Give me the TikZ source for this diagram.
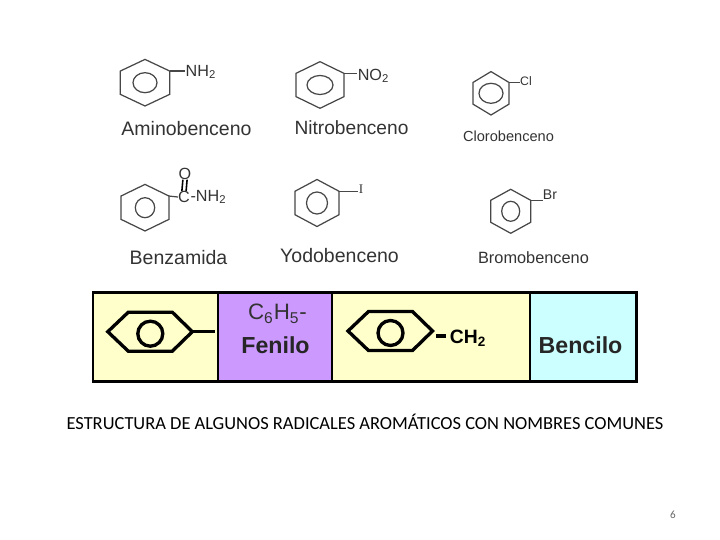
\documentclass[tikz,border=0pt]{standalone}
\usepackage{fontspec}
\setmainfont{Liberation Sans}
\newfontfamily\serifletter{Liberation Serif}
\newfontfamily\captionfont{Carlito}
\usetikzlibrary{positioning}
\definecolor{inkgrey}{HTML}{333333}
\definecolor{paleyellow}{HTML}{FFFFCC}
\definecolor{palepurple}{HTML}{CC99FF}
\definecolor{palecyan}{HTML}{CCFFFF}
\newcommand{\ringnode}[7]{
	\begin{scope}[shift={(#2,#3)}]
		\draw[thinring] (0,-#5) -- (#4,-#5/2) -- (#4,#5/2) -- (0,#5) -- (-#4,#5/2) -- (-#4,-#5/2) -- cycle;
		\draw[thinring] (0,0) ellipse ({#6} and {#7});
		\coordinate (#1) at (#4,-#5/2);
	\end{scope}
}
\newcommand{\flatring}[3]{
	\begin{scope}[shift={(#2,#3)}]
		\draw[thickring] (-42.5,0) -- (-22,-19.5) -- (22,-19.5) -- (42,0) -- (22,19.5) -- (-22,19.5) -- cycle;
		\draw[thickring] (0,2) circle (12.5);
		\coordinate (#1) at (42,0);
	\end{scope}
}
\tikzset{
	thinring/.style = {draw=inkgrey!90, line width=0.7pt},
	thickring/.style = {draw=black, line width=1.9pt, line join=miter},
	bondline/.style = {draw=inkgrey!90, line width=0.7pt},
	heavybond/.style = {draw=black, line width=1.9pt},
	namebig/.style = {text=inkgrey, font=\fontsize{11.1}{13}\selectfont},
	groupname/.style = {text=inkgrey, inner sep=0pt, font=\fontsize{9.2}{11}\selectfont},
	cellname/.style = {text=black!85, font=\fontsize{13.2}{15}\selectfont\bfseries},
	cellbox/.style = {draw=black, line width=1.2pt},
}

\begin{document}
\begin{tikzpicture}[x=0.02cm,y=-0.02cm]
	\useasboundingbox (0,0) rectangle (720,540);
	% upper rings
	\ringnode{ringA}{145}{82.7}{24.7}{23.3}{12}{10}
	\ringnode{ringN}{320}{85}{24}{23.3}{13}{9.5}
	\ringnode{ringC}{491}{93.3}{18}{21.7}{12}{10}
	\ringnode{ringB}{145}{207.7}{24}{23.3}{9.7}{10}
	\ringnode{ringY}{317}{203}{22}{23.5}{10.5}{11}
	\ringnode{ringR}{510.7}{211.3}{20}{22}{9}{10}
	% groups
	\node[groupname] (subA) at (201,72) {NH\textsubscript{2}};
	\node[groupname] (subN) at (373.5,76) {NO\textsubscript{2}};
	\node[groupname, font=\fontsize{7}{8}\selectfont] (subC) at (526,81) {Cl};
	\node[groupname] (subO) at (185,173.5) {O};
	\node[groupname] (subK) at (184,197) {C};
	\node[groupname, right=0pt of subK] (subH) {-NH\textsubscript{2}};
	\node[groupname, font=\fontsize{7.5}{9}\serifletter] (subY) at (361,189) {I};
	\node[groupname, font=\fontsize{8}{9}\selectfont] (subR) at (550,195) {Br};
	\draw[bondline] (ringA) -- (subA.west |- ringA);
	\draw[bondline] (ringN) -- (subN.west |- ringN);
	\draw[bondline] (ringC) -- (subC.west |- ringC);
	\draw[bondline] (ringB) -- (subK.west);
	\draw[bondline] (ringY) -- (subY.west |- ringY);
	\draw[bondline] (ringR) -- (subR.west |- ringR);
	\draw[draw=black, line width=0.9pt] ([xshift=-1.2pt]subO.south) -- ([xshift=-1.2pt]subK.north);
	\draw[draw=black, line width=0.9pt] ([xshift=1.2pt]subO.south) -- ([xshift=1.2pt]subK.north);
	% names
	\node[namebig] (nameA) at (186.5,129) {Aminobenceno};
	\node[namebig, font=\fontsize{10.9}{13}\selectfont] (nameN) at (351.5,128) {Nitrobenceno};
	\node[namebig, font=\fontsize{8.3}{10}\selectfont] (nameC) at (508.5,136.5) {Clorobenceno};
	\node[namebig] (nameB) at (178.5,258) {Benzamida};
	\node[namebig] (nameY) at (339.5,256) {Yodobenceno};
	\node[namebig, font=\fontsize{9.3}{11}\selectfont] (nameR) at (533.5,258) {Bromobenceno};
	% table
	\fill[paleyellow] (93,292.5) rectangle (218,381.5);
	\fill[palepurple] (218,292.5) rectangle (332,381.5);
	\fill[paleyellow] (332,292.5) rectangle (530,381.5);
	\fill[palecyan] (530,292.5) rectangle (636.7,381.5);
	\draw[cellbox] (218,292.5) -- (218,381.5);
	\draw[cellbox] (332,292.5) -- (332,381.5);
	\draw[cellbox] (530,292.5) -- (530,381.5);
	\draw[cellbox, line width=1.7pt] (93,292.5) rectangle (636.7,381.5);
	\flatring{ringP}{150.3}{331.7}
	\flatring{ringQ}{390.5}{331}
	\coordinate (endP) at (214.5,331.7);
	\draw[heavybond] (ringP) -- (endP);
	\node[inner sep=0pt, font=\fontsize{11}{13}\selectfont\bfseries] (chtwo) at (468,338.5) {CH\textsubscript{2}};
	\coordinate (startQ) at (436,336);
	\draw[heavybond] (startQ) -- ([xshift=-2.2pt]chtwo.west |- startQ);
	\node[inner sep=0pt, text=inkgrey, font=\fontsize{12.7}{15}\selectfont] (formula) at (277.5,314) {C\textsubscript{6}H\textsubscript{5}-};
	\node[cellname] (fenilo) at (275.5,345) {Fenilo};
	\node[cellname] (bencilo) at (580.5,345) {Bencilo};
	% caption
	\node[font=\fontsize{10.5}{12}\captionfont, text=black] (caption) at (365,422) {ESTRUCTURA DE ALGUNOS RADICALES AROMÁTICOS CON NOMBRES COMUNES};
	\node[font=\fontsize{6.3}{8}\captionfont, text=black!60] (pagenum) at (673,515) {6};
\end{tikzpicture}
\end{document}
